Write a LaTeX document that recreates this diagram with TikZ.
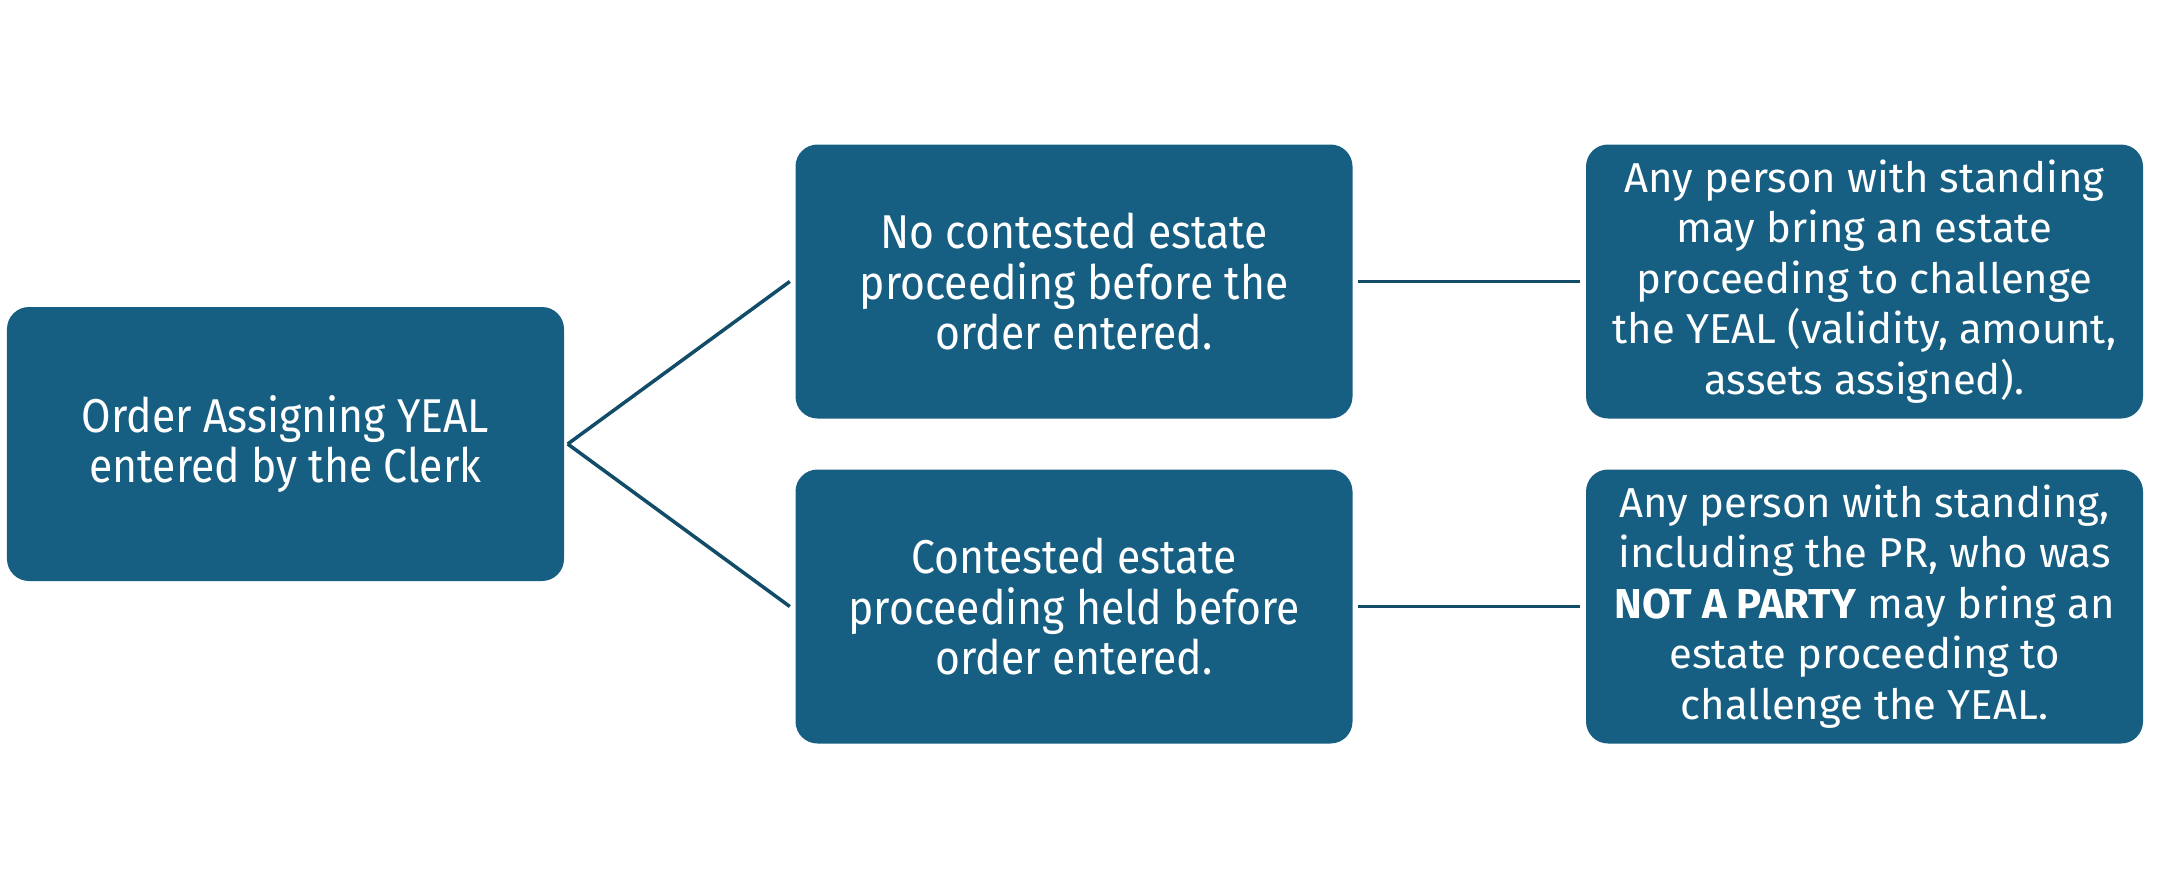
\documentclass[tikz,border=0pt]{standalone}
\usepackage{fontspec}
\setmainfont{Fira Sans}
\newfontfamily\narrowfont[FakeStretch=0.9]{Fira Sans}
\usepackage{tikz}
\usetikzlibrary{positioning}
\definecolor{boxblue}{RGB}{23,95,130}
\definecolor{lineblue}{RGB}{18,76,104}
\tikzset{
  box/.style={rectangle, rounded corners=0.22cm, fill=boxblue, text=white,
    minimum width=5.57cm, minimum height=2.74cm, align=center, inner sep=0pt,
    font=\fontsize{11.9}{14.4}\selectfont},
  narrowbox/.style={box, font=\narrowfont\fontsize{13.5}{14.4}\selectfont},
  link/.style={draw=lineblue, line width=1pt}
}
\begin{document}
\begin{tikzpicture}
\useasboundingbox (0,0) rectangle (21.69,8.88);
% first column
\node[narrowbox] (order) at (2.855,4.44) {Order Assigning YEAL\\entered by the Clerk};
% second column
\node[narrowbox] (noprior) at (10.74,6.065) {No contested estate\\proceeding before the\\order entered.};
\node[narrowbox] (prior) at (10.74,2.815) {Contested estate\\proceeding held before\\order entered.};
% third column
\node[box] (anyone) at (18.645,6.065) {Any person with standing\\may bring an estate\\proceeding to challenge\\the YEAL (validity, amount,\\assets assigned).};
\node[box] (nonparty) at (18.645,2.815) {Any person with standing,\\including the PR, who was\\\textbf{NOT A PARTY} may bring an\\estate proceeding to\\challenge the YEAL.};
% connectors
\draw[link] ([xshift=0.03cm]order.east) -- ([xshift=-0.05cm]noprior.west);
\draw[link] ([xshift=0.03cm]order.east) -- ([xshift=-0.05cm]prior.west);
\draw[link, shorten <=0.05cm, shorten >=0.05cm] (noprior.east) -- (anyone.west);
\draw[link, shorten <=0.05cm, shorten >=0.05cm] (prior.east) -- (nonparty.west);
\end{tikzpicture}
\end{document}
